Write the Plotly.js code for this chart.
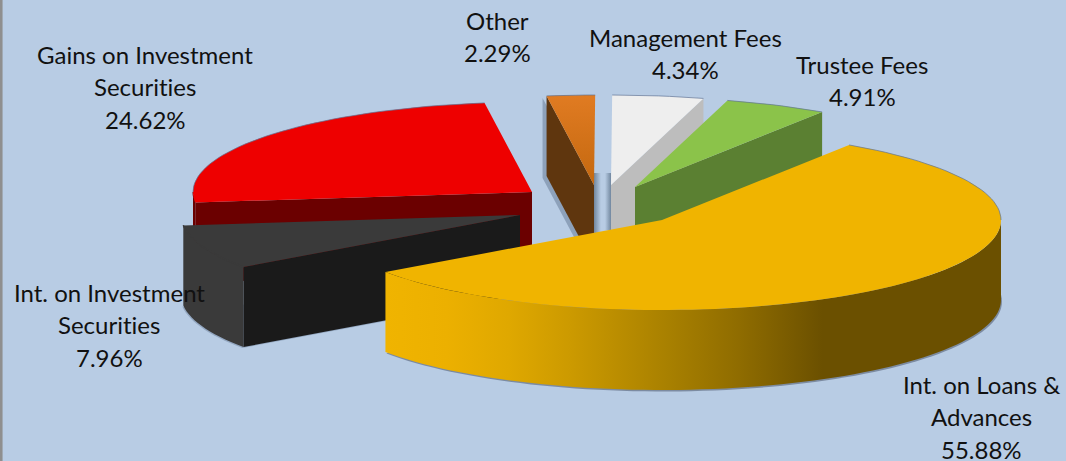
<!DOCTYPE html>
<html>
<head>
<meta charset="utf-8">
<script src="https://cdn.plot.ly/plotly-3.0.1.min.js"></script>
<style>html,body{margin:0;padding:0;background:#b8cce4;overflow:hidden} svg text{font-variant-ligatures:none;font-feature-settings:"liga" 0}</style>
</head>
<body>
<div id="chart" style="width:1066px;height:461px"></div>
<script>
// ---- data (clockwise from the first slice) ----
const categories = ["Int. on Loans & Advances", "Int. on Investment Securities", "Gains on Investment Securities", "Other", "Management Fees", "Trustee Fees"];
const values = [55.88, 7.96, 24.62, 2.29, 4.34, 4.91];
const labelLines = [["Int. on Loans &", "Advances"], ["Int. on Investment", "Securities"], ["Gains on Investment", "Securities"], ["Other"], ["Management Fees"], ["Trustee Fees"]];

// ---- styles and layout constants ----
const topColors  = ["#f0b400", "#3a3a3a", "#ee0000", "#d9761c", "#eeeeee", "#8bc34a"];
const sideColors = ["#6b5000", "#1a1a1a", "#6b0000", "#5f360e", "#bdbdbd", "#5b8032"];
const arcColors  = [null, "#3a3a3a", "#6b0000", null, null, null];
const tipX = [662, 520, 532, 594, 611, 635];
const tipY = [220, 215, 192, 185, 185, 187];
const sideEdge = [null, "start", "start", "start", "end", "end"];
const labelX = [981, 109, 145, 497, 685, 862];
const labelY = [384, 292, 54, 20, 37, 64];
const lineGap = 32.5;
const RX = 339, RY = 90, DEPTH = 80, START_DEG = -56.5;
const DRAW_ORDER = [3, 4, 5, 2, 1, 0];
const FONT = {family: "Lato, Carlito, Calibri, sans-serif", size: 24, color: "#111111"};

function arc(i, a, b) {
  const n = Math.max(4, Math.ceil(Math.abs(b - a) / 2)), pts = [];
  for (let k = 0; k <= n; k++) {
    const t = (a + (b - a) * k / n) * Math.PI / 180;
    pts.push([tipX[i] + RX * Math.cos(t), tipY[i] + RY * Math.sin(t)]);
  }
  return pts;
}
function poly(pts, fill, extra) {
  return Object.assign({
    type: "scatter", mode: "none", x: pts.map(p => p[0]).concat(pts[0][0]), y: pts.map(p => p[1]).concat(pts[0][1]),
    fill: "toself", fillcolor: fill, hoverinfo: "skip", showlegend: false
  }, extra || {});
}
function edge(pts, color, width) {
  return {type: "scatter", mode: "lines", x: pts.map(p => p[0]), y: pts.map(p => p[1]),
    line: {color: color, width: width, shape: "linear"}, hoverinfo: "skip", showlegend: false};
}
const drop = (pts, d) => pts.map(p => [p[0], p[1] + d]);
const shift = (pts, dx, dy) => pts.map(p => [p[0] + dx, p[1] + dy]);

// slice angles, derived from the values
const starts = [], ends = [];
values.reduce((acc, v, i) => { starts[i] = acc; ends[i] = acc + v * 3.6; return ends[i]; }, START_DEG);

const traces = [];
DRAW_ORDER.forEach(i => {
  const a = starts[i], b = ends[i], tip = [tipX[i], tipY[i]];
  const top = arc(i, a, b);
  // soft shadows for the wedges that stand on the backdrop
  if (i === 3) {
    const p0 = top[0];
    traces.push(poly(shift([p0, tip, [tip[0], tip[1] + DEPTH], [p0[0], p0[1] + DEPTH]], -4, 2), "rgba(60,80,110,0.35)"));
    traces.push(poly([[tip[0], tip[1] - 12], [tip[0] + 7, tip[1] - 12], [tip[0] + 7, tip[1] + 48], [tip[0], tip[1] + 48]], "#7e94b2",
      {fillgradient: {type: "horizontal", start: tip[0], stop: tip[0] + 7, colorscale: [[0, "#71879f"], [1, "#b8cce4"]]}}));
  }
  if (i === 4) {
    traces.push(poly([[tip[0] - 6, tip[1] - 12], [tip[0], tip[1] - 12], [tip[0], tip[1] + 45], [tip[0] - 6, tip[1] + 45]], "#7e94b2",
      {fillgradient: {type: "horizontal", start: tip[0] - 6, stop: tip[0], colorscale: [[0, "#b8cce4"], [1, "#71879f"]]}}));
  }
  if (i === 1) {
    const lower = drop(top, DEPTH);
    traces.push(poly(shift(lower.concat([[tip[0], tip[1] + DEPTH]]), -1, 1), "rgba(60,80,110,0.3)"));
  }
  if (i === 0) {
    const lower = drop(arc(i, -6, b), DEPTH);
    traces.push(poly(shift(lower, 1, 1.5).concat([[tip[0], tip[1]]]), "rgba(50,60,80,0.45)"));
  }
  // side face along a cut edge
  if (sideEdge[i]) {
    const corner = sideEdge[i] === "start" ? top[0] : top[top.length - 1];
    traces.push(poly([corner, tip, [tip[0], tip[1] + DEPTH], [corner[0], corner[1] + DEPTH]], sideColors[i]));
  }
  // curved outer wall on the front half
  const wa = Math.max(a, 0), wb = Math.min(b, 180);
  if (wb > wa) {
    const outer = arc(i, wa, wb), wall = outer.concat(drop(outer, DEPTH).reverse());
    if (i === 0) {
      traces.push(poly(wall, sideColors[i], {fillgradient: {type: "horizontal", start: outer[outer.length - 1][0], stop: outer[0][0],
        colorscale: [[0, "#f0b400"], [0.1, "#ecb000"], [0.2, "#dfa800"], [0.3, "#cc9a00"], [0.46, "#a88000"], [0.575, "#8f6c00"], [0.71, "#6b5000"], [1, "#6b5000"]]}}));
    } else {
      traces.push(poly(wall, arcColors[i] || sideColors[i]));
      traces.push(edge(outer, arcColors[i] || sideColors[i], 1));
    }
  }
  // top face
  const grad = i === 3 ? {fillgradient: {type: "vertical", start: top[0][1], stop: tip[1], colorscale: [[0, "#e07b22"], [1, "#c4680f"]]}} : {};
  traces.push(poly(top.concat([tip]), topColors[i], grad));
  if (i === 1) traces.push(edge(top, topColors[i], 1.5));
  if (i !== 1) {
    const backA = i === 0 ? a : (i === 2 ? 180 : a), backB = i === 0 ? 0 : b;
    traces.push(edge(arc(i, backA, backB), "rgba(95,115,150,0.7)", 1));
  }
});

// data labels: each line is one real text item, spaced like the reference
const annotations = [];
categories.forEach((c, i) => {
  const lines = labelLines[i].concat(values[i].toFixed(2) + "%");
  lines.forEach((s, k) => annotations.push({
    xref: "x", yref: "y", x: labelX[i], y: labelY[i] + k * lineGap, text: s.replace("&", "&amp;"),
    showarrow: false, xanchor: "center", yanchor: "middle", font: FONT
  }));
});

const layout = {
  width: 1066, height: 461, margin: {l: 0, r: 0, t: 0, b: 0},
  paper_bgcolor: "#b8cce4", plot_bgcolor: "#b8cce4", showlegend: false,
  xaxis: {range: [0, 1066], visible: false, fixedrange: true},
  yaxis: {range: [461, 0], visible: false, fixedrange: true},
  annotations: annotations,
  shapes: [{type: "line", xref: "paper", yref: "paper", x0: 0.001, x1: 0.001, y0: 0, y1: 1, line: {color: "#8f8f8f", width: 3}}]
};
Plotly.newPlot("chart", traces, layout, {staticPlot: true, displayModeBar: false});
</script>
</body>
</html>
